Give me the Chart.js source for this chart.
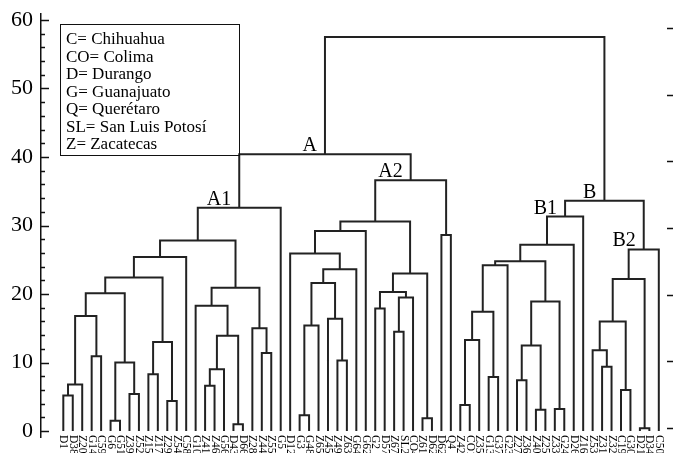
<!DOCTYPE html>
<html>
<head>
<meta charset="utf-8">
<script src="https://cdn.jsdelivr.net/npm/chart.js@4.4.1/dist/chart.umd.min.js"></script>
<style>
  html, body { margin: 0; padding: 0; background: #fff; }
  #wrap { position: relative; width: 673px; height: 453px; }
</style>
</head>
<body>
<div id="wrap"><canvas id="chart"></canvas></div>
<script>
// leaves, left to right (index = x position)
const leaves = [
  'D1','D38','Z20','G14','C59','G6','G51','Z39','Z52','Z15','Z17','Z29','Z54','C58',
  'G10','Z41','Z46','G56','D43','D66','Z28','Z44','Z55','G5',
  'D12','G3','G48','Z65','Z45','Z49','Z63','G64','G62','G2','D57','Z67','SL2','CO4',
  'Z61','D62','D62','Q4',
  'Z42','CO1','Z35','G13','G37','G23','Z27','Z36','Z40','Z25','Z33','G24','D26','Z16',
  'Z53','Z31','Z32','C19','G30','D21','D34','C50'
];

// merges: [name, left, right, height]; numbers = leaf index, strings = earlier merge
const merges = [
  ['a1', 0, 1, 5.2], ['a2', 'a1', 2, 6.8], ['a3', 3, 4, 10.9], ['a4', 'a2', 'a3', 16.8],
  ['a5', 5, 6, 1.5], ['a6', 7, 8, 5.4], ['a7', 'a5', 'a6', 10.0], ['a8', 'a4', 'a7', 20.1],
  ['a9', 9, 10, 8.3], ['a10', 11, 12, 4.4], ['a11', 'a9', 'a10', 13.0],
  ['a12', 'a8', 'a11', 22.4], ['a13', 'a12', 13, 25.4],
  ['b1', 15, 16, 6.6], ['b2', 'b1', 17, 9.0], ['b3', 18, 19, 1.0], ['b4', 'b2', 'b3', 13.9],
  ['b5', 14, 'b4', 18.3], ['b6', 21, 22, 11.4], ['b7', 20, 'b6', 15.0], ['b8', 'b5', 'b7', 20.9],
  ['c1', 'a13', 'b8', 27.8], ['A1', 'c1', 23, 32.6],
  ['d1', 25, 26, 2.3], ['d2', 'd1', 27, 15.4], ['d3', 29, 30, 10.3], ['d4', 28, 'd3', 16.4],
  ['d5', 'd2', 'd4', 21.6], ['d6', 'd5', 31, 23.6], ['d7', 24, 'd6', 25.9], ['d8', 'd7', 32, 29.2],
  ['e1', 33, 34, 17.9], ['e2', 35, 36, 14.5], ['e3', 'e2', 37, 19.5], ['e4', 'e1', 'e3', 20.3],
  ['e5', 38, 39, 1.85], ['e6', 'e4', 'e5', 23.0], ['e7', 'd8', 'e6', 30.6],
  ['e8', 40, 41, 28.6], ['A2', 'e7', 'e8', 36.6],
  ['A', 'A1', 'A2', 40.4],
  ['f1', 42, 43, 3.8], ['f2', 'f1', 44, 13.3], ['f3', 45, 46, 7.9], ['f4', 'f2', 'f3', 17.4],
  ['f5', 'f4', 47, 24.2], ['g1', 48, 49, 7.4], ['g2', 50, 51, 3.1], ['g3', 'g1', 'g2', 12.5],
  ['g4', 52, 53, 3.2], ['g5', 'g3', 'g4', 18.9], ['g6', 'f5', 'g5', 24.8],
  ['g7', 'g6', 54, 27.2], ['B1', 'g7', 55, 31.3],
  ['h1', 57, 58, 9.4], ['h2', 56, 'h1', 11.8], ['h3', 59, 60, 6.0], ['h4', 'h2', 'h3', 16.0],
  ['h5', 61, 62, 0.4], ['h6', 'h4', 'h5', 22.2], ['B2', 'h6', 63, 26.5],
  ['B', 'B1', 'B2', 33.6],
  ['root', 'A', 'B', 57.5]
];

const yTicks = [0, 10, 20, 30, 40, 50, 60];

// cluster tags: [text, merge name]
const clusterTags = [['A', 'A'], ['A1', 'A1'], ['A2', 'A2'], ['B', 'B'], ['B1', 'B1'], ['B2', 'B2']];

const legendLines = [
  'C= Chihuahua', 'CO= Colima', 'D= Durango', 'G= Guanajuato',
  'Q= Querétaro', 'SL= San Luis Potosí', 'Z= Zacatecas'
];

// build one U-shaped link per merge
const nodes = {};
function pos(ref){
  return typeof ref === 'number' ? { x: ref, y: 0 } : nodes[ref];
}
const datasets = merges.map(([name, a, b, h]) => {
  const l = pos(a), r = pos(b);
  nodes[name] = { x: (l.x + r.x) / 2, y: h };
  return {
    data: [{ x: l.x, y: l.y }, { x: l.x, y: h }, { x: r.x, y: h }, { x: r.x, y: r.y }],
    showLine: true,
    borderColor: '#222',
    borderWidth: 2,
    borderJoinStyle: 'miter',
    pointRadius: 0,
    pointHoverRadius: 0,
    fill: false,
    tension: 0
  };
});

const SERIF = '"Liberation Serif", "DejaVu Serif", serif';

// extras: axis ticks, leaf labels, cluster tags, legend box
const decor = {
  id: 'decor',
  afterDraw(chart){
    const ctx = chart.ctx;
    const xs = chart.scales.x, ys = chart.scales.y, y2 = chart.scales.y2;
    const area = chart.chartArea;
    ctx.save();
    ctx.strokeStyle = '#111';
    ctx.fillStyle = '#000';

    // left axis: major every 10, minor every 2 (inward)
    ctx.lineWidth = 1.5;
    for (let v = 0; v <= 60; v += 2) {
      const py = Math.round(ys.getPixelForValue(v)) + 0.5;
      const len = v % 10 === 0 ? 8 : 4;
      ctx.beginPath();
      ctx.moveTo(area.left, py);
      ctx.lineTo(area.left + len, py);
      ctx.stroke();
    }
    // right side ticks (outward, no axis line)
    for (const v of yTicks) {
      const py = Math.round(y2.getPixelForValue(v)) + 0.5;
      ctx.beginPath();
      ctx.moveTo(area.right + 3, py);
      ctx.lineTo(area.right + 9, py);
      ctx.stroke();
    }

    // leaf labels, rotated to read downward
    ctx.font = '11.5px ' + SERIF;
    ctx.textAlign = 'left';
    ctx.textBaseline = 'middle';
    const base = ys.getPixelForValue(0) + 4;
    leaves.forEach((lab, i) => {
      ctx.save();
      ctx.translate(xs.getPixelForValue(i), base);
      ctx.rotate(Math.PI / 2);
      ctx.fillText(lab, 0, 0);
      ctx.restore();
    });

    // cluster tags, just left of and above each node
    ctx.font = '20px ' + SERIF;
    ctx.textAlign = 'right';
    ctx.textBaseline = 'alphabetic';
    for (const [txt, name] of clusterTags) {
      const n = nodes[name];
      ctx.fillText(txt, xs.getPixelForValue(n.x) - 8, ys.getPixelForValue(n.y) - 3);
    }

    // legend box
    ctx.lineWidth = 1;
    ctx.strokeRect(60.5, 24.5, 179, 131);
    ctx.font = '17px ' + SERIF;
    ctx.textAlign = 'left';
    ctx.textBaseline = 'middle';
    legendLines.forEach((t, i) => ctx.fillText(t, 66, 40 + i * 17.5));
    ctx.restore();
  }
};

new Chart(document.getElementById('chart'), {
  type: 'scatter',
  data: { datasets },
  options: {
    animation: false,
    responsive: true,
    maintainAspectRatio: false,
    events: [],
    layout: { padding: { top: 13.8, right: 9, bottom: 15.8, left: 0 } },
    plugins: { legend: { display: false }, tooltip: { enabled: false } },
    scales: {
      x: { type: 'linear', min: -2.36, max: 63.55, display: false },
      y: {
        type: 'linear',
        min: -0.9,
        max: 60.9,
        afterBuildTicks: (s) => { s.ticks = yTicks.map(v => ({ value: v })); },
        afterFit: (s) => { s.width = 41; s.paddingTop = 0; s.paddingBottom = 0; },
        grid: { display: false, drawTicks: false },
        border: { display: true, color: '#111', width: 1.5 },
        ticks: { color: '#000', padding: 8, font: { family: SERIF, size: 22 } }
      },
      y2: { type: 'linear', position: 'right', min: -1.38, max: 62.13, display: false }
    }
  },
  plugins: [decor]
});
</script>
</body>
</html>
